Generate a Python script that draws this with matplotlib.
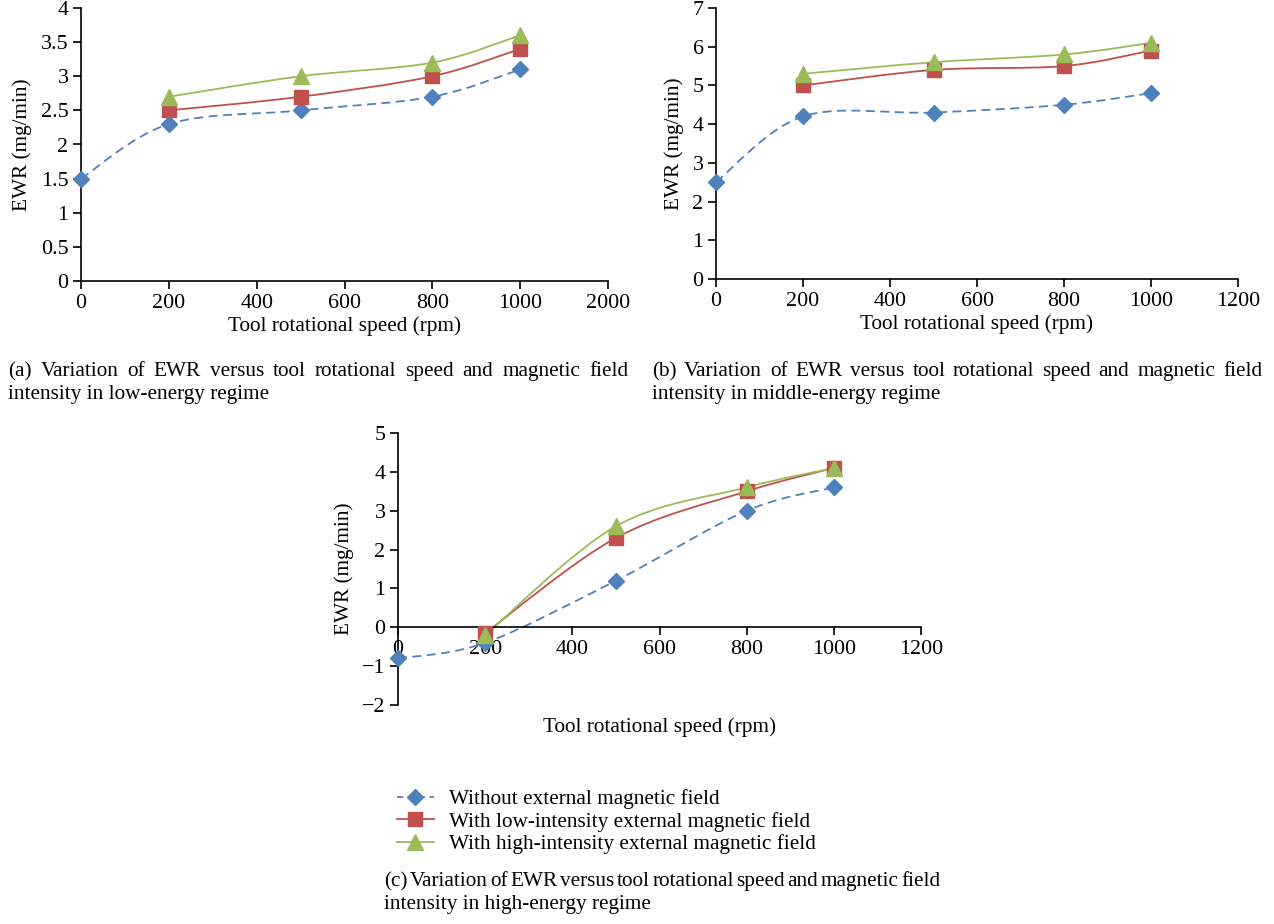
import matplotlib
matplotlib.use('Agg')
import matplotlib.pyplot as plt
from matplotlib.path import Path
from matplotlib.patches import PathPatch
from matplotlib.lines import Line2D
from matplotlib.ticker import FuncFormatter

# ========== DATA ==========
speed = [0, 200, 500, 800, 1000]
speed_mag = [200, 500, 800, 1000]

low_without = [1.5, 2.3, 2.5, 2.7, 3.1]
low_lowint = [2.5, 2.7, 3.0, 3.4]
low_highint = [2.7, 3.0, 3.2, 3.6]

mid_without = [2.5, 4.2, 4.3, 4.5, 4.8]
mid_lowint = [5.0, 5.4, 5.5, 5.9]
mid_highint = [5.3, 5.6, 5.8, 6.1]

high_without = [-0.8, -0.4, 1.2, 3.0, 3.6]
high_lowint = [-0.15, 2.3, 3.5, 4.1]
high_highint = [-0.2, 2.6, 3.6, 4.1]

xticks = [0, 200, 400, 600, 800, 1000, 1200]
xtick_labels_a = ['0', '200', '400', '600', '800', '1000', '2000']
xtick_labels = ['0', '200', '400', '600', '800', '1000', '1200']

series_names = ['Without external magnetic field',
                'With low-intensity external magnetic field',
                'With high-intensity external magnetic field']

captions = [
    ('(a) Variation of EWR versus tool rotational speed and magnetic field',
     'intensity in low-energy regime'),
    ('(b) Variation of EWR versus tool rotational speed and magnetic field',
     'intensity in middle-energy regime'),
    ('(c) Variation of EWR versus tool rotational speed and magnetic field',
     'intensity in high-energy regime'),
]
# ==========================

BLUE = '#4F81BD'
RED = '#C0504D'
GREEN = '#9BBB59'
FONT = 'Liberation Serif'
FS = 15.3        # labels, legend, captions
TICK_FS = 15.8

plt.rcParams['font.family'] = [FONT, 'DejaVu Serif']
plt.rcParams['font.size'] = FS

W, H = 1274, 924
fig = plt.figure(figsize=(W / 100, H / 100), dpi=100)


def px_axes(left, top, right, bottom):
    return fig.add_axes([left / W, 1 - bottom / H, (right - left) / W, (bottom - top) / H])


def smooth_line(ax, xs, ys, **kw):
    # Catmull-Rom style smoothed line, as Excel draws it
    pts = list(zip(xs, ys))
    n = len(pts)
    verts = [pts[0]]
    codes = [Path.MOVETO]
    for i in range(n - 1):
        p0 = pts[i - 1] if i > 0 else pts[i]
        p1 = pts[i]
        p2 = pts[i + 1]
        p3 = pts[i + 2] if i + 2 < n else pts[i + 1]
        c1 = (p1[0] + (p2[0] - p0[0]) / 6, p1[1] + (p2[1] - p0[1]) / 6)
        c2 = (p2[0] - (p3[0] - p1[0]) / 6, p2[1] - (p3[1] - p1[1]) / 6)
        verts += [c1, c2, p2]
        codes += [Path.CURVE4] * 3
    ax.add_patch(PathPatch(Path(verts, codes), fill=False, **kw))


def draw_panel(ax, without, lowint, highint, ylim, yticks, xlabels):
    smooth_line(ax, speed, without, edgecolor=BLUE, lw=1.3, linestyle=(0, (5, 3)), zorder=2)
    smooth_line(ax, speed_mag, lowint, edgecolor=RED, lw=1.3, zorder=2)
    smooth_line(ax, speed_mag, highint, edgecolor=GREEN, lw=1.3, zorder=2)
    ax.plot(speed, without, linestyle='none', marker='D', ms=8.5, color=BLUE, zorder=3, clip_on=False)
    ax.plot(speed_mag, lowint, linestyle='none', marker='s', ms=10, color=RED, zorder=4, clip_on=False)
    ax.plot(speed_mag, highint, linestyle='none', marker='^', ms=11, color=GREEN, zorder=5, clip_on=False)
    ax.set_xlim(0, 1200)
    ax.set_ylim(*ylim)
    ax.set_xticks(xticks)
    ax.set_xticklabels(xlabels)
    ax.set_yticks(yticks)
    ax.yaxis.set_major_formatter(FuncFormatter(lambda v, p: ('%g' % v).replace('-', '\u2212')))
    for s in ['top', 'right']:
        ax.spines[s].set_visible(False)
    for s in ['left', 'bottom']:
        ax.spines[s].set_linewidth(1.2)
    ax.tick_params(direction='out', length=6, width=1.2, labelsize=TICK_FS, pad=3)
    ax.set_xlabel('Tool rotational speed (rpm)', fontsize=FS, labelpad=3)
    ax.set_ylabel('EWR (mg/min)', fontsize=FS, labelpad=6)


ax_a = px_axes(81, 8, 608, 281)
draw_panel(ax_a, low_without, low_lowint, low_highint, (0, 4),
           [0, 0.5, 1, 1.5, 2, 2.5, 3, 3.5, 4], xtick_labels_a)

ax_b = px_axes(716, 8, 1238, 279)
draw_panel(ax_b, mid_without, mid_lowint, mid_highint, (0, 7),
           [0, 1, 2, 3, 4, 5, 6, 7], xtick_labels)

ax_c = px_axes(398, 433, 921, 705)
draw_panel(ax_c, high_without, high_lowint, high_highint, (-2, 5),
           [-2, -1, 0, 1, 2, 3, 4, 5], xtick_labels)
ax_c.spines['bottom'].set_position(('data', 0))
ax_c.xaxis.set_label_coords(0.5, -0.045)

# legend
handles = [
    Line2D([], [], color=BLUE, lw=1.3, linestyle=(0, (3.5, 2.5)), marker='D', ms=8.5),
    Line2D([], [], color=RED, lw=1.3, marker='s', ms=10),
    Line2D([], [], color=GREEN, lw=1.3, marker='^', ms=11),
]
fig.legend(handles, series_names, loc='upper left', bbox_to_anchor=(388 / W, 1 - 781 / H),
           frameon=False, fontsize=FS, handlelength=1.75, handletextpad=0.7,
           labelspacing=0.12, borderaxespad=0)

# captions, first line justified
renderer = fig.canvas.get_renderer()


def justified(text, left, right, y):
    words = text.split()
    objs = [fig.text(0, 1 - y / H, w, fontsize=FS, va='baseline', ha='left') for w in words]
    widths = [o.get_window_extent(renderer).width for o in objs]
    gap = (right - left - sum(widths)) / (len(words) - 1)
    x = left
    for o, w in zip(objs, widths):
        o.set_x(x / W)
        x += w + gap


def caption(lines, left, right, y):
    # y is the baseline of the first line, in pixels from the top
    justified(lines[0], left, right, y)
    fig.text(left / W, 1 - (y + 23) / H, lines[1], fontsize=FS, va='baseline', ha='left')


caption(captions[0], 8, 628, 376)
caption(captions[1], 652, 1262, 376)
caption(captions[2], 384, 940, 886)

fig.savefig('out.png', dpi=100)
